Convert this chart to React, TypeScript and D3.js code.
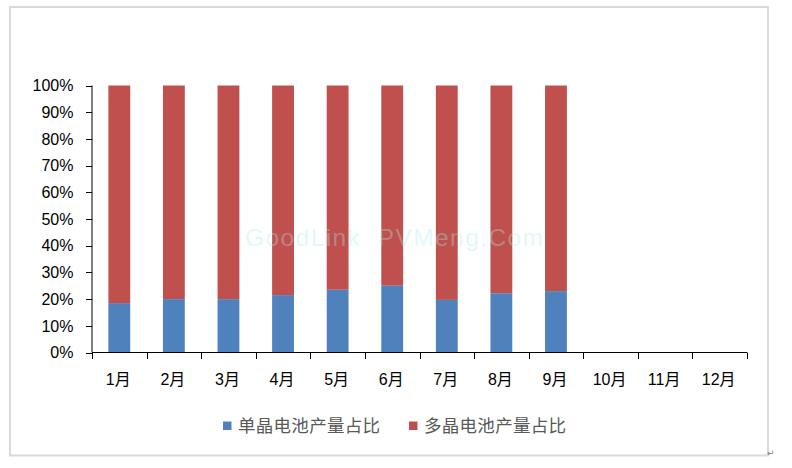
import React from "react";
import * as d3 from "d3";

const categories = ["1月", "2月", "3月", "4月", "5月", "6月", "7月", "8月", "9月", "10月", "11月", "12月"];
const monoShare: (number | null)[] = [18.5, 20, 20, 21.5, 23.5, 25, 19.7, 22.2, 23, null, null, null];
const seriesNames = ["单晶电池产量占比", "多晶电池产量占比"];
const seriesColors = ["#4f81bd", "#c0504d"];
const yTicks = [0, 10, 20, 30, 40, 50, 60, 70, 80, 90, 100];

const W = 792;
const H = 468;
const left = 92;
const right = 747;
const top = 85.5;
const bottom = 352.5;

export default function App() {
  const x = d3.scaleBand<string>().domain(categories).range([left, right]).paddingInner(0.6).paddingOuter(0.3);
  const y = d3.scaleLinear().domain([0, 100]).range([bottom, top]);
  const step = x.step();
  const font = "'Liberation Sans', 'Noto Sans CJK SC', sans-serif";

  return (
    <svg width={W} height={H} style={{ position: "absolute", left: 0, top: 0 }} xmlns="http://www.w3.org/2000/svg">
      <rect x={0} y={0} width={W} height={H} fill="#fff" />
      <rect x={10} y={7} width={758} height={448.5} fill="#fff" stroke="#d9d9d9" strokeWidth={2} />
      {/* bars */}
      {categories.map((c, i) => {
        const v = monoShare[i];
        if (v == null) return null;
        const bx = x(c)!;
        return (
          <g key={c}>
            <rect x={bx} y={y(100)} width={x.bandwidth()} height={y(v) - y(100)} fill={seriesColors[1]} />
            <rect x={bx} y={y(v)} width={x.bandwidth()} height={y(0) - y(v)} fill={seriesColors[0]} />
          </g>
        );
      })}
      {/* y axis */}
      <line x1={left} x2={left} y1={top} y2={bottom} stroke="#000" strokeWidth={1} />
      {yTicks.map((t) => (
        <g key={t}>
          <line x1={left - 6} x2={left} y1={Math.round(y(t)) + 0.5} y2={Math.round(y(t)) + 0.5} stroke="#000" />
          <text x={73.5} y={y(t)} dy="0.36em" textAnchor="end" fontFamily={font} fontSize={16} fill="#000">
            {t}%
          </text>
        </g>
      ))}
      {/* x axis */}
      <line x1={left} x2={right} y1={bottom} y2={bottom} stroke="#000" strokeWidth={1} />
      {d3.range(categories.length + 1).map((i) => {
        const tx = Math.round(left + i * step) + 0.5;
        return <line key={i} x1={tx} x2={tx} y1={bottom} y2={bottom + 6.5} stroke="#000" />;
      })}
      {categories.map((c) => (
        <text key={c} x={x(c)! + x.bandwidth() / 2 - 1} y={385} textAnchor="middle" fontFamily={font} fontSize={16} fill="#000">
          {c}
        </text>
      ))}
      {/* watermark */}
      <text x={245} y={246} fontFamily="'Liberation Sans', sans-serif" fontSize={24.5} fill="#a8ecec" fillOpacity={0.35} style={{ whiteSpace: "pre" }} textLength={298}>
        GoodLink  PVMeng.Com
      </text>
      {/* legend */}
      {seriesNames.map((n, i) => {
        const lx = i === 0 ? 223 : 409;
        return (
          <g key={n}>
            <rect x={lx} y={421.5} width={8.5} height={8.5} fill={seriesColors[i]} />
            <text x={lx + 15} y={432} fontFamily="'Noto Sans CJK SC', sans-serif" fontSize={17.5} fill="#595959" textLength={142}>
              {n}
            </text>
          </g>
        );
      })}
      <text x={767} y={456} fontFamily="'DejaVu Sans', sans-serif" fontSize={9} fill="#808080">↵</text>
    </svg>
  );
}
